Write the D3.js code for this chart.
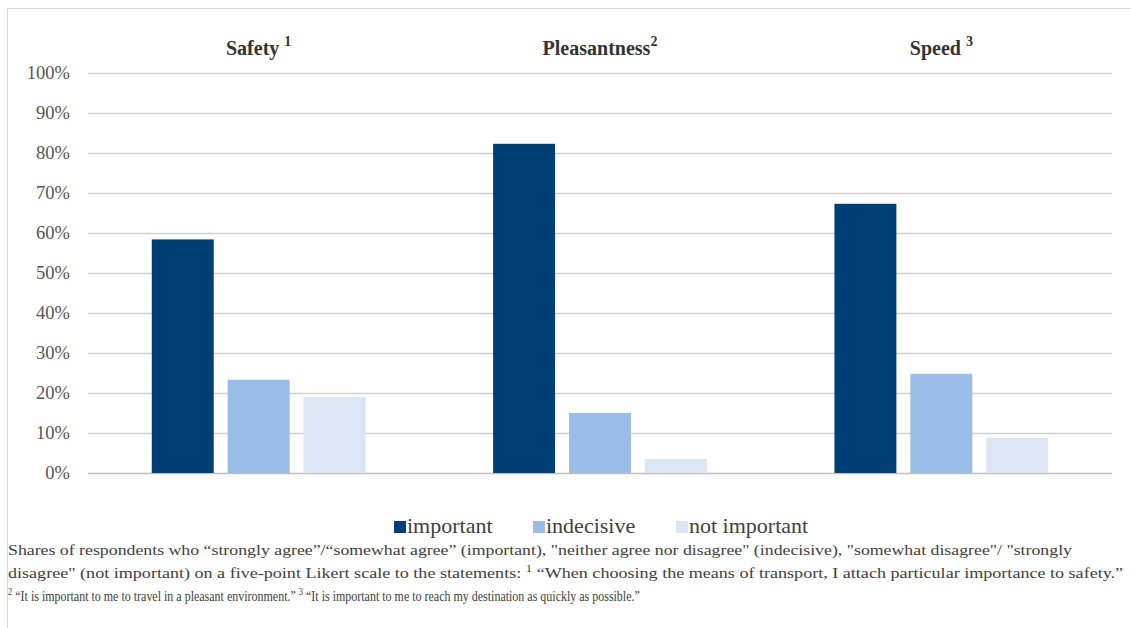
<!DOCTYPE html>
<html>
<head>
<meta charset="utf-8">
<script src="https://cdn.jsdelivr.net/npm/d3@7"></script>
<style>
  body { margin: 0; background: #fff; }
  svg text { font-family: "Liberation Serif", "DejaVu Serif", "Times New Roman", serif; }
</style>
</head>
<body>
<svg id="chart" width="1131" height="628"></svg>
<script>
// Chart data
const categories = ['Safety', 'Pleasantness', 'Speed'];
const catNotes = ['1', '2', '3'];
const series = ['important', 'indecisive', 'not important'];
const important = [0.584, 0.823, 0.673];
const indecisive = [0.233, 0.150, 0.248];
const notImportant = [0.190, 0.035, 0.088];
const yTicks = [0, 0.1, 0.2, 0.3, 0.4, 0.5, 0.6, 0.7, 0.8, 0.9, 1.0];

const colors = ['#003f75', '#99bde6', '#dbe6f5'];
const values = [important, indecisive, notImportant];
const SERIF = '"Liberation Serif", "DejaVu Serif", serif';

const svg = d3.select('#chart');
const W = 1131, H = 628;

// frame (top and left edges only visible)
svg.append('line').attr('x1', 7.5).attr('x2', W).attr('y1', 8.5).attr('y2', 8.5)
  .attr('stroke', '#d9d9d9').attr('stroke-width', 1);
svg.append('line').attr('x1', 7.5).attr('x2', 7.5).attr('y1', 8.5).attr('y2', H)
  .attr('stroke', '#d9d9d9').attr('stroke-width', 1);

const plot = { left: 88, right: 1112, top: 73, bottom: 473 };

const x0 = d3.scaleBand().domain(categories).range([plot.left, plot.right]).padding(0);
const x1 = d3.scaleBand().domain(series).range([0, x0.bandwidth()])
  .paddingInner(0.184).paddingOuter(0.84);
const y = d3.scaleLinear().domain([0, 1]).range([plot.bottom, plot.top]);

// gridlines
svg.append('g').selectAll('line').data(yTicks).enter().append('line')
  .attr('x1', plot.left).attr('x2', plot.right)
  .attr('y1', d => Math.round(y(d)) + 0.5).attr('y2', d => Math.round(y(d)) + 0.5)
  .attr('stroke', d => d === 0 ? '#bfbfbf' : '#d0d0d0').attr('stroke-width', 1.5);

// y labels
svg.append('g').attr('font-family', SERIF).selectAll('text').data(yTicks).enter().append('text')
  .attr('x', 70).attr('y', d => y(d)).attr('dy', '0.35em')
  .attr('text-anchor', 'end').attr('font-size', 18.5).attr('fill', '#555')
  .text(d => d3.format('.0%')(d));

// bars
categories.forEach((c, ci) => {
  const g = svg.append('g').attr('transform', `translate(${x0(c)},0)`);
  g.selectAll('rect').data(series).enter().append('rect')
    .attr('x', s => x1(s)).attr('width', x1.bandwidth())
    .attr('y', (s, si) => y(values[si][ci]))
    .attr('height', (s, si) => y(0) - y(values[si][ci]))
    .attr('fill', (s, si) => colors[si]);
});

// category titles
const titles = svg.append('g').attr('font-family', SERIF).selectAll('text').data(categories).enter().append('text')
  .attr('x', c => x0(c) + x0.bandwidth() / 2).attr('y', 55)
  .attr('text-anchor', 'middle').attr('font-size', 20).attr('font-weight', 'bold')
  .attr('fill', '#333');
titles.append('tspan').text(c => c + (c === 'Pleasantness' ? '' : ' '));
titles.append('tspan').attr('font-size', 14).attr('font-weight', 'bold').attr('dy', -9)
  .text((c, i) => catNotes[i]);

// legend
const legendX = [394, 533, 676];
const legend = svg.append('g').attr('font-family', SERIF).selectAll('g').data(series).enter().append('g')
  .attr('transform', (d, i) => `translate(${legendX[i]},521)`);
legend.append('rect').attr('width', 12).attr('height', 12).attr('fill', (d, i) => colors[i]);
legend.append('text').attr('x', 13).attr('y', 12).attr('font-size', 22).attr('fill', '#404040')
  .text(d => d);

// footnote
const note = svg.append('g').attr('font-family', SERIF).attr('font-size', 15.5).attr('fill', '#404040');
const l1 = note.append('text').attr('x', 8).attr('y', 555)
  .attr('textLength', 1064).attr('lengthAdjust', 'spacingAndGlyphs');
l1.text('Shares of respondents who \u201Cstrongly  agree\u201D/\u201Csomewhat agree\u201D (important), "neither  agree nor disagree" (indecisive),  "somewhat disagree"/ "strongly');

const l2 = note.append('text').attr('transform', 'translate(8,578) scale(1.167,1)');
l2.append('tspan').text('disagree" (not important)  on  a five-point  Likert scale to the statements: ');
l2.append('tspan').attr('font-size', 11).attr('dy', -6).text('1');
l2.append('tspan').attr('dy', 6).text(' \u201CWhen choosing the means of transport, I attach particular importance to safety.\u201D');

const l3 = note.append('text').attr('transform', 'translate(8,601) scale(0.774,1)');
l3.append('tspan').attr('font-size', 11).attr('dy', -6).text('2');
l3.append('tspan').attr('dy', 6).text(' \u201CIt is important  to me to travel in a pleasant environment.\u201D   ');
l3.append('tspan').attr('font-size', 11).attr('dy', -6).text('3');
l3.append('tspan').attr('dy', 6).text(' \u201CIt is important to me to reach my destination  as quickly  as possible.\u201D');
</script>
</body>
</html>
